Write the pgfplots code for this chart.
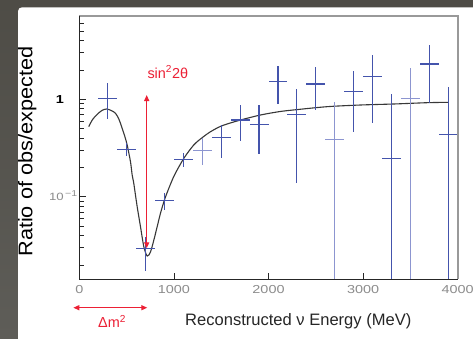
\documentclass[border=0pt]{standalone}
\usepackage{fontspec}
\setmainfont{Liberation Sans}
\newfontfamily\tickfont[FakeStretch=1.25]{Liberation Sans}
\newfontfamily\ylabfont[FakeStretch=1.1]{Liberation Sans}
\usepackage{pgfplots}
\usepackage{pgfplotstable}
\pgfplotsset{compat=1.18}
\usetikzlibrary{arrows.meta}

\definecolor{crossdark}{HTML}{4454AC}
\definecolor{crosslight}{HTML}{8C95D0}
\definecolor{annot}{HTML}{EC2035}
\definecolor{fitline}{HTML}{383838}
\definecolor{slidetop}{HTML}{4E4C46}
\definecolor{slidemid}{HTML}{3B3A35}
\definecolor{slidebot}{HTML}{5E5D58}

% ratio data: bin centre, ratio, half bin width, upper and lower error
\pgfplotstableread{
x    y       ex   ep     em
300  1.02    100  0.44   0.392
500  0.305   100  0.051  0.042
700  0.0292  100  0.0098 0.0117
900  0.0912  100  0.0175 0.018
1100 0.242   100  0.037  0.038
1500 0.404   100  0.141  0.156
1700 0.613   100  0.261  0.24
1900 0.554   100  0.32   0.281
2100 1.515   100  0.685  0.62
2300 0.702   100  0.568  0.5625
2500 1.436   100  0.724  0.659
2900 1.197   100  0.753  0.732
3100 1.72    100  1.13   1.145
3300 0.248   100  0.877  0.243
3700 2.3     100  1.3    1.39
3900 0.438   100  0.892  0.433
}\ratiodark

\pgfplotstableread{
x    y       ex   ep     em
1300 0.297   100  0.101  0.085
2700 0.389   100  0.556  0.384
3500 1.02    100  1.06   1.015
}\ratiolight

% best-fit oscillation curve
\pgfplotstableread{
x    y
100  0.524
140  0.62
189  0.70
240  0.77
290  0.795
340  0.765
383  0.718
420  0.62
453  0.504
480  0.42
506  0.34
541  0.229
559  0.167
576  0.137
612  0.079
647  0.0493
682  0.0308
718  0.0247
753  0.0273
788  0.036
823  0.0493
858  0.0677
900  0.0927
946  0.122
1006 0.167
1105 0.248
1210 0.34
1299 0.404
1387 0.465
1510 0.536
1704 0.613
1915 0.69
2109 0.746
2268 0.778
2620 0.84
2973 0.874
3325 0.895
3678 0.923
3900 0.931
}\fitcurve

\begin{document}
\begin{tikzpicture}[x=1bp,y=1bp]
\useasboundingbox (0,0) rectangle (473,338);
\clip (0,0) rectangle (473,338);
% slide background and white panel
\shade[top color=slidetop, middle color=slidemid, bottom color=slidebot] (0,0) rectangle (473,338);
\fill[white, rounded corners=4bp] (18,-10) rectangle (490,330.7);

\begin{axis}[
  at={(79.3bp,58.7bp)}, anchor=south west, scale only axis,
  width=378.4bp, height=263.6bp,
  xmin=0, xmax=4000,
  ymode=log, ymin=0.01425, ymax=7.2,
  clip mode=individual,
  axis line style={draw=none},
  xtick={0,1000,2000,3000,4000},
  xticklabels={0,1000,2000,3000,4000},
  xticklabel style={font=\tickfont\fontsize{11.6}{13}\selectfont, text=black!45, inner sep=0pt, yshift=-5.8bp},
  ytick={0.1,1},
  yticklabels={{\fontsize{10.6}{12}\selectfont\color{black!45}10\smash{\rlap{\raisebox{0.75ex}{\fontsize{8.5}{9}\selectfont\,−1}}}},
               {\bfseries\fontsize{11.6}{13}\selectfont 1}},
  yticklabel style={font=\tickfont, anchor=east, inner sep=0pt, xshift=-15.3bp},
  minor ytick={0.02,0.03,0.04,0.05,0.06,0.07,0.08,0.09,0.2,0.3,0.4,0.5,0.6,0.7,0.8,0.9,2,3,4,5,6},
  minor xtick={},
  xtick pos=bottom, ytick pos=left,
  major tick length=6.5bp, minor tick length=4.5bp,
  tick style={black!85, line width=0.7bp},
]
\addplot[fitline, line width=1.1bp, smooth, tension=0.5] table[x=x, y=y] {\fitcurve};

\addplot[crossdark, draw=none, mark=none,
  error bars/.cd, x dir=both, x explicit, y dir=both, y explicit,
  error mark=none, error bar style={draw=crossdark, solid, line width=1.1bp}]
  table[x=x, y=y, x error=ex, y error plus=ep, y error minus=em] {\ratiodark};
\addplot[crosslight, draw=none, mark=none,
  error bars/.cd, x dir=both, x explicit, y dir=both, y explicit,
  error mark=none, error bar style={draw=crosslight, solid, line width=1.1bp}]
  table[x=x, y=y, x error=ex, y error plus=ep, y error minus=em] {\ratiolight};

% frame: dark axes at left and bottom, grey at top and right
\draw[black!40, line width=1.6bp] (rel axis cs:0,1) -- (rel axis cs:1,1) -- (rel axis cs:1,0);
\draw[black!85, line width=1.1bp] (rel axis cs:0,1) -- (rel axis cs:0,0) -- (rel axis cs:1,0);
\end{axis}

% axis titles
\node[rotate=90, font=\ylabfont\fontsize{19.8}{22}\selectfont, text=black] at (27.2,186.3) {Ratio of obs/expected};
\node[font=\fontsize{16.6}{19}\selectfont, text=black!85] at (298.3,17.2) {Reconstructed ν Energy (MeV)};

% oscillation parameters
\draw[annot, line width=1.2bp, {Triangle[length=6bp,width=5bp]}-{Triangle[length=6bp,width=5bp]}] (146.7,243) -- (146.7,89.7);
\node[annot, anchor=base west, inner sep=0pt, font=\fontsize{14.5}{16}\selectfont] at (147.3,260) {sin\textsuperscript{2}2θ};
\draw[annot, line width=1.2bp, {Triangle[length=6bp,width=5bp]}-{Triangle[length=6bp,width=5bp]}] (73.3,30.3) -- (147.3,30.3);
\node[annot, font=\fontsize{14.5}{16}\selectfont] at (112,16.3) {Δm\textsuperscript{2}};
\end{tikzpicture}
\end{document}
